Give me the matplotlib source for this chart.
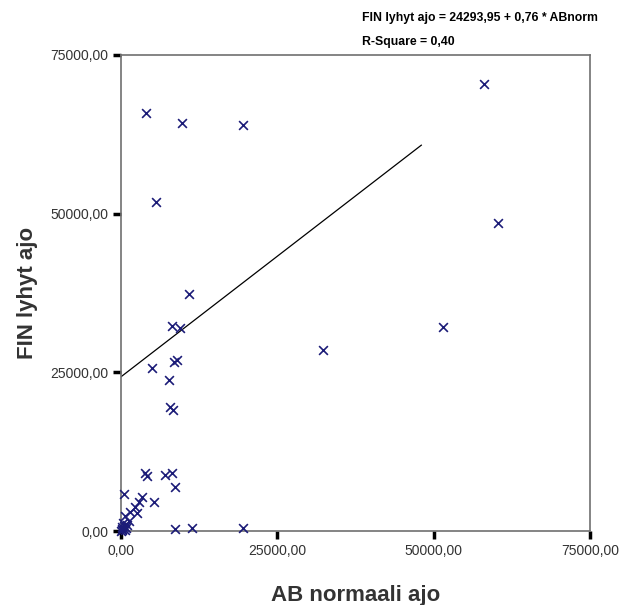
import matplotlib
matplotlib.use("Agg")
import matplotlib.pyplot as plt
import numpy as np

plt.rcParams['font.family'] = ['Liberation Sans', 'DejaVu Sans']

# AB normaali ajo (x) vs FIN lyhyt ajo (y)
ab_norm = [58000, 60300, 51500, 32300, 4000, 9700, 19500, 5600, 10800,
           8100, 9500, 8400, 8900, 4900, 7700, 7900, 8300,
           3800, 4100, 7000, 8100, 8600, 5300, 3300, 2800, 2200,
           400, 1400, 2500, 600, 1200,
           200, 500, 100, 800, 300, 0, 600, 1000, 150,
           8600, 11400, 19500]
fin_lyhyt = [70400, 48500, 32100, 28500, 65800, 64200, 63900, 51900, 37400,
             32300, 31900, 26700, 26900, 25600, 23800, 19600, 19100,
             9200, 8600, 8800, 9200, 7000, 4600, 5400, 4600, 3800,
             5900, 3000, 2800, 2300, 1500,
             300, 800, 100, 500, 1200, 0, 200, 900, 600,
             300, 500, 500]

intercept = 24293.95
slope = 0.76
fit_x = [0, 48000]

ticks = [0, 25000, 50000, 75000]
tick_labels = ["0,00", "25000,00", "50000,00", "75000,00"]

fig = plt.figure(figsize=(6.19, 6.05), dpi=100)
ax = fig.add_axes([0.1955, 0.1223, 0.758, 0.787])

ax.scatter(ab_norm, fin_lyhyt, marker='x', s=40, color='#1c1c78',
           linewidths=1.2, clip_on=False, zorder=3)

fx = np.array(fit_x)
ax.plot(fx, intercept + slope * fx, color='black', lw=0.9, zorder=2)

ax.set_xlim(0, 75000)
ax.set_ylim(0, 75000)
ax.set_xticks(ticks)
ax.set_xticklabels(tick_labels)
ax.set_yticks(ticks)
ax.set_yticklabels(tick_labels)
ax.tick_params(direction='out', length=6, width=2.5, color='black',
               labelsize=10, labelcolor='#333333', pad=3)

for sp in ax.spines.values():
    sp.set_color('#707070')
    sp.set_linewidth(1.2)

ax.set_xlabel("AB normaali ajo", fontsize=16, fontweight='bold',
              color='#333333', labelpad=20)
ax.set_ylabel("FIN lyhyt ajo", fontsize=16, fontweight='bold',
              color='#333333', labelpad=9)

fig.text(0.585, 0.970, "FIN lyhyt ajo = 24293,95 + 0,76 * ABnorm",
         fontsize=8.8, fontweight='bold', ha='left', va='center')
fig.text(0.585, 0.931, "R-Square = 0,40",
         fontsize=8.8, fontweight='bold', ha='left', va='center')

fig.savefig("out.png", dpi=100)
